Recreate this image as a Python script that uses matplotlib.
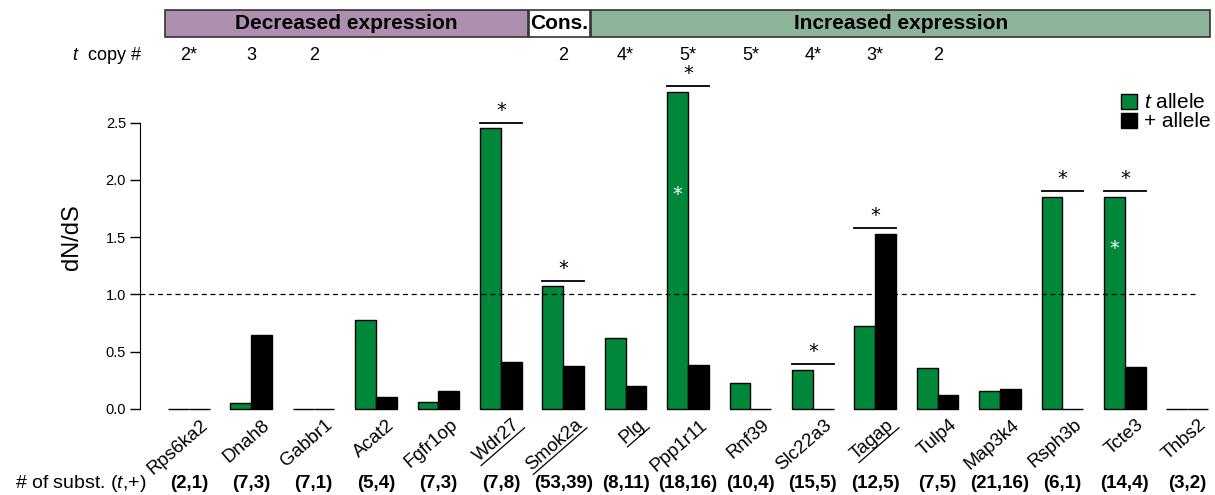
import numpy as np
import matplotlib
matplotlib.use('Agg')
import matplotlib.pyplot as plt
from matplotlib.patches import Rectangle, Patch
from matplotlib.lines import Line2D
import matplotlib.transforms as mtransforms

plt.rcParams['font.family'] = ['Liberation Sans', 'DejaVu Sans']
plt.rcParams['mathtext.fontset'] = 'custom'
plt.rcParams['mathtext.rm'] = 'Liberation Sans'
plt.rcParams['mathtext.it'] = 'Liberation Sans:italic'

genes = ['Rps6ka2', 'Dnah8', 'Gabbr1', 'Acat2', 'Fgfr1op', 'Wdr27', 'Smok2a', 'Plg',
         'Ppp1r11', 'Rnf39', 'Slc22a3', 'Tagap', 'Tulp4', 'Map3k4', 'Rsph3b', 'Tcte3', 'Thbs2']
t_allele = [0, 0.05, 0, 0.78, 0.06, 2.45, 1.07, 0.62, 2.77, 0.23, 0.34, 0.725, 0.36, 0.16, 1.85, 1.85, 0]
plus_allele = [0, 0.65, 0, 0.105, 0.155, 0.41, 0.375, 0.2, 0.385, 0, 0, 1.53, 0.12, 0.175, 0, 0.365, 0]
copy_num = ['2*', '3', '2', '', '', '', '2', '4*', '5*', '5*', '4*', '3*', '2', '', '', '', '']
subst = ['(2,1)', '(7,3)', '(7,1)', '(5,4)', '(7,3)', '(7,8)', '(53,39)', '(8,11)', '(18,16)',
         '(10,4)', '(15,5)', '(12,5)', '(7,5)', '(21,16)', '(6,1)', '(14,4)', '(3,2)']
underlined = ['Wdr27', 'Smok2a', 'Plg', 'Tagap']
sig_groups = ['Wdr27', 'Smok2a', 'Ppp1r11', 'Slc22a3', 'Tagap', 'Rsph3b', 'Tcte3']
inner_star = {'Ppp1r11': 1.87, 'Tcte3': 1.4}
regions = [('Decreased expression', 'Rps6ka2', 'Wdr27', '#ad8fb0'),
           ('Cons.', 'Smok2a', 'Smok2a', 'white'),
           ('Increased expression', 'Plg', 'Thbs2', '#8db49a')]

green = '#00873a'

W, H = 1215, 495
fig = plt.figure(figsize=(W / 100, H / 100), dpi=100)
ax = fig.add_axes([140 / W, 1 - 409 / H, (1197 - 140) / W, (409 - 65.2) / H])

n = len(genes)
left = 1 + 3 * np.arange(n)
centers = left + 1
ax.bar(left, t_allele, width=1, align='edge', color=green, edgecolor='black', lw=1, clip_on=False)
ax.bar(left + 1, plus_allele, width=1, align='edge', color='black', edgecolor='black', lw=1, clip_on=False)

ax.set_xlim(-0.35, 50.47)
ax.set_ylim(0, 3.0)
ax.axhline(1.0, color='black', lw=0.9, ls=(0, (4, 3)))

for sp in ['top', 'right', 'bottom']:
    ax.spines[sp].set_visible(False)
ax.spines['left'].set_bounds(0, 2.5)
ax.set_yticks([0, 0.5, 1.0, 1.5, 2.0, 2.5])
ax.set_yticklabels(['0.0', '0.5', '1.0', '1.5', '2.0', '2.5'])
ax.tick_params(axis='y', length=7, width=1, labelsize=10.5, pad=3)
ax.set_xticks([])
ax.set_ylabel('dN/dS', fontsize=17, labelpad=16)

# significance bars
for g in sig_groups:
    i = genes.index(g)
    top = max(t_allele[i], plus_allele[i]) + 0.05
    ax.plot([left[i], left[i] + 2], [top, top], color='black', lw=1.3, clip_on=False)
    ax.text(centers[i], top + 0.025, '*', ha='center', va='bottom', fontsize=14,
            family='DejaVu Sans')
for g, yv in inner_star.items():
    i = genes.index(g)
    ax.text(left[i] + 0.5, yv, '*', ha='center', va='center', color='white', fontsize=14,
            family='DejaVu Sans')

# gene labels
lab_fs = 13.5
rot = 41
labels = []
for i, g in enumerate(genes):
    t = ax.text(centers[i] + 0.8, -0.12, g, rotation=rot, rotation_mode='anchor',
                ha='right', va='center', fontsize=lab_fs)
    labels.append(t)

# rows of annotation
fig.text(142 / W, 1 - 55 / H, '$t$  copy #', ha='right', va='center', fontsize=13)
fig.text(146 / W, 1 - 483 / H, '# of subst. ($t$,+)', ha='right', va='center', fontsize=14)
btrans = mtransforms.blended_transform_factory(ax.transData, fig.transFigure)
for i in range(n):
    if copy_num[i]:
        ax.text(centers[i], 1 - 55 / H, copy_num[i], transform=btrans, ha='center',
                va='center', fontsize=13)
    ax.text(centers[i], 1 - 483 / H, subst[i], transform=btrans, ha='center',
            va='center', fontsize=13.5, fontweight='bold')

# expression regions on top
for name, g0, g1, col in regions:
    x0 = left[genes.index(g0)] - 0.15 if g0 == 'Rps6ka2' else left[genes.index(g0)] - 0.65
    x1 = left[genes.index(g1)] + 2.3 if g1 != 'Thbs2' else left[genes.index(g1)] + 2.1
    y0, y1 = 1 - 37 / H, 1 - 10 / H
    r = Rectangle((x0, y0), x1 - x0, y1 - y0, transform=btrans, facecolor=col,
                  edgecolor='#333333', lw=1.2, clip_on=False)
    ax.add_patch(r)
    ax.text((x0 + x1) / 2, (y0 + y1) / 2, name, transform=btrans, ha='center',
            va='center', fontsize=15, fontweight='bold')

# legend
handles = [Patch(facecolor=green, edgecolor='black'), Patch(facecolor='black', edgecolor='black')]
ax.legend(handles, ['$t$ allele', '+ allele'], loc='upper left',
          bbox_to_anchor=(1111 / W, 1 - 83 / H), bbox_transform=fig.transFigure,
          frameon=False, fontsize=15, handlelength=0.75, handleheight=0.75,
          handletextpad=0.35, labelspacing=0.0, borderpad=0)

# underline some gene labels
fig.canvas.draw()
renderer = fig.canvas.get_renderer()
th = np.deg2rad(rot)
u = np.array([np.cos(th), np.sin(th)])
down = np.array([np.sin(th), -np.cos(th)])
for t in labels:
    if t.get_text() not in underlined:
        continue
    tmp = fig.text(0, 0, t.get_text(), fontsize=lab_fs)
    w = tmp.get_window_extent(renderer).width
    tmp.remove()
    ax_pt = ax.transData.transform(t.get_position())
    d = lab_fs * 100 / 72 * 0.45
    p0 = ax_pt + down * d + u * 2
    p1 = p0 - u * (w + 2)
    pts = fig.transFigure.inverted().transform([p0, p1])
    fig.add_artist(Line2D(pts[:, 0], pts[:, 1], color='black', lw=0.9, transform=fig.transFigure))

fig.savefig('out.png', dpi=100)
